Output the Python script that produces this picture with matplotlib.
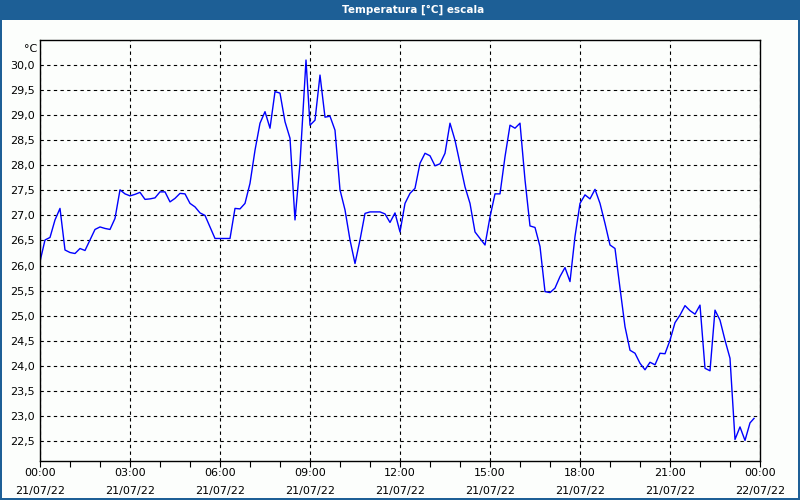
import pandas as pd
import matplotlib
matplotlib.use("Agg")
from matplotlib import pyplot as plt
import matplotlib.dates as mdates
from matplotlib.ticker import FuncFormatter, FixedLocator
from matplotlib.patches import Rectangle

# odczyty co 10 minut, 21/07/22
times = ["00:00", "00:10", "00:20", "00:30", "00:40", "00:50",
         "01:00", "01:10", "01:20", "01:30", "01:40", "01:50",
         "02:00", "02:10", "02:20", "02:30", "02:40", "02:50",
         "03:00", "03:10", "03:20", "03:30", "03:40", "03:50",
         "04:00", "04:10", "04:20", "04:30", "04:40", "04:50",
         "05:00", "05:10", "05:20", "05:30", "05:40", "05:50",
         "06:00", "06:10", "06:20", "06:30", "06:40", "06:50",
         "07:00", "07:10", "07:20", "07:30", "07:40", "07:50",
         "08:00", "08:10", "08:20", "08:30", "08:40", "08:52",
         "09:00", "09:10", "09:20", "09:30", "09:40", "09:50",
         "10:00", "10:10", "10:20", "10:30", "10:40", "10:50",
         "11:00", "11:10", "11:20", "11:30", "11:40", "11:50",
         "12:00", "12:10", "12:20", "12:30", "12:40", "12:50",
         "13:00", "13:10", "13:20", "13:30", "13:40", "13:50",
         "14:00", "14:10", "14:20", "14:30", "14:40", "14:50",
         "15:00", "15:10", "15:20", "15:30", "15:40", "15:50",
         "16:00", "16:10", "16:20", "16:30", "16:40", "16:50",
         "17:00", "17:10", "17:20", "17:30", "17:40", "17:50",
         "18:00", "18:10", "18:20", "18:30", "18:40", "18:50",
         "19:00", "19:10", "19:20", "19:30", "19:40", "19:50",
         "20:00", "20:10", "20:20", "20:30", "20:40", "20:50",
         "21:00", "21:10", "21:20", "21:30", "21:40", "21:50",
         "22:00", "22:10", "22:20", "22:30", "22:40", "22:50",
         "23:00", "23:10", "23:20", "23:30", "23:40", "23:48"]

temps = [26.08, 26.51, 26.56, 26.91, 27.14, 26.31,
         26.26, 26.24, 26.34, 26.30, 26.51, 26.72,
         26.77, 26.74, 26.72, 26.94, 27.51, 27.43,
         27.39, 27.42, 27.46, 27.32, 27.33, 27.35,
         27.47, 27.47, 27.27, 27.34, 27.44, 27.43,
         27.24, 27.17, 27.05, 27.00, 26.77, 26.54,
         26.54, 26.54, 26.54, 27.14, 27.13, 27.24,
         27.64, 28.30, 28.84, 29.07, 28.74, 29.47,
         29.44, 28.87, 28.54, 26.91, 28.04, 30.10,
         28.80, 28.90, 29.80, 28.96, 28.98, 28.70,
         27.51, 27.11, 26.51, 26.04, 26.51, 27.04,
         27.07, 27.07, 27.07, 27.03, 26.86, 27.05,
         26.67, 27.24, 27.44, 27.54, 28.04, 28.24,
         28.19, 27.99, 28.03, 28.24, 28.84, 28.50,
         28.04, 27.57, 27.24, 26.67, 26.54, 26.41,
         26.97, 27.43, 27.43, 28.17, 28.80, 28.74,
         28.84, 27.71, 26.79, 26.76, 26.38, 25.48,
         25.46, 25.55, 25.78, 25.96, 25.68, 26.58,
         27.24, 27.41, 27.33, 27.52, 27.24, 26.84,
         26.41, 26.34, 25.55, 24.78, 24.31, 24.25,
         24.05, 23.92, 24.07, 24.02, 24.25, 24.24,
         24.51, 24.86, 25.01, 25.20, 25.10, 25.03,
         25.21, 23.95, 23.90, 25.11, 24.91, 24.51,
         24.15, 22.53, 22.78, 22.51, 22.86, 22.95]

y_ticks = [22.5, 23.0, 23.5, 24.0, 24.5, 25.0, 25.5, 26.0, 26.5,
           27.0, 27.5, 28.0, 28.5, 29.0, 29.5, 30.0]

title = "Temperatura [°C] escala"
unit = "°C"

x = pd.to_datetime(["2022-07-21 " + t for t in times])
x_start = pd.Timestamp("2022-07-21 00:00")
x_end = pd.Timestamp("2022-07-22 00:00")

bar = "#1d5f96"
bg = "#fcfefc"

fig = plt.figure(figsize=(8, 5), dpi=100, facecolor=bg)

# pasek tytułu i ramka okna
fig.patches.append(Rectangle((0, 0.96), 1, 0.04, transform=fig.transFigure,
                             facecolor=bar, edgecolor="none", zorder=0))
fig.patches.append(Rectangle((0, 0), 0.0025, 1, transform=fig.transFigure,
                             facecolor=bar, edgecolor="none", zorder=0))
fig.patches.append(Rectangle((0.9975, 0), 0.0025, 1, transform=fig.transFigure,
                             facecolor=bar, edgecolor="none", zorder=0))
fig.patches.append(Rectangle((0, 0), 1, 0.004, transform=fig.transFigure,
                             facecolor=bar, edgecolor="none", zorder=0))
fig.text(0.516, 0.98, title, color="white", fontsize=7.5, fontweight="bold",
         ha="center", va="center")

ax = fig.add_axes([0.05, 0.078, 0.90, 0.842])
ax.set_facecolor(bg)
ax.plot(x, temps, color="#0000ff", linewidth=1)

ax.set_xlim(x_start, x_end)
ax.set_ylim(22.1, 30.5)

ax.xaxis.set_major_locator(mdates.HourLocator(byhour=range(0, 24, 3)))
ax.xaxis.set_minor_locator(mdates.HourLocator())
ax.xaxis.set_major_formatter(mdates.DateFormatter("%H:%M\n%d/%m/%y"))
ax.yaxis.set_major_locator(FixedLocator(y_ticks))
ax.yaxis.set_major_formatter(FuncFormatter(lambda v, p: f"{v:.1f}".replace(".", ",")))

ax.grid(True, which="major", color="black", linestyle=(0, (3, 3)), linewidth=0.8)
ax.tick_params(axis="x", which="major", length=4, width=0.8, labelsize=8, pad=1)
ax.tick_params(axis="x", which="minor", length=4, width=0.8)
ax.tick_params(axis="y", length=0, labelsize=8, pad=4)
for s in ax.spines.values():
    s.set_linewidth(1)

ax.text(-0.004, 0.99, unit, transform=ax.transAxes, ha="right", va="top", fontsize=8)

fig.canvas.draw()
for lbl in ax.get_xticklabels():
    lbl.set_linespacing(2.0)

plt.savefig("out.png", dpi=100, facecolor=bg)
plt.close()
